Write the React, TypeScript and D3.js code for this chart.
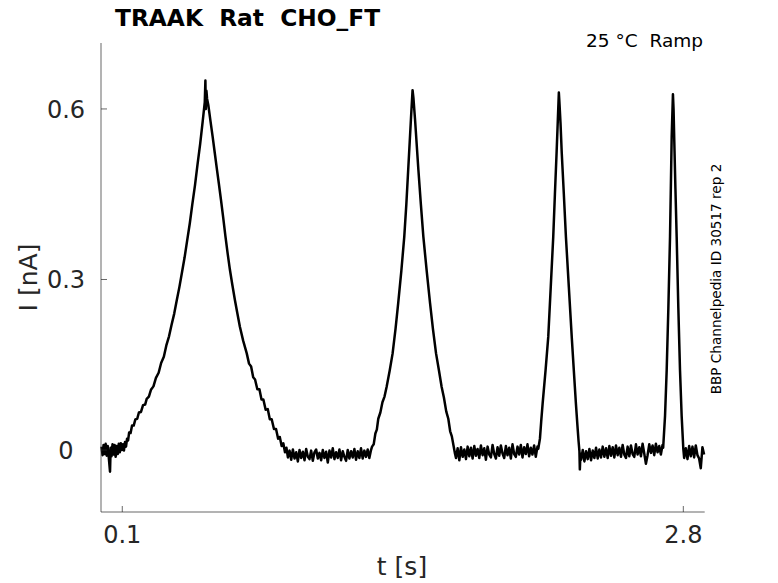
import React from "react";
import * as d3 from "d3";

// ---- chart text ----
const title = "TRAAK  Rat  CHO_FT";
const condition = "25 °C  Ramp";
const sideNote = "BBP Channelpedia ID 30517 rep 2";
const xLabel = "t [s]";
const yLabel = "I [nA]";

// ---- axes ----
const xDomain: [number, number] = [0, 2.9];
const yDomain: [number, number] = [-0.109, 0.716];
const xTicks = [0.1, 2.8];
const yTicks = [0, 0.3, 0.6];

// ---- trace: [time s, current nA] ----
const baseline0: [number, number][] = [
  [0.0, 0.006], [0.005, -0.009], [0.01, 0.009], [0.015, -0.007], [0.02, 0.011],
  [0.025, -0.01], [0.03, 0.007], [0.035, -0.013], [0.041, -0.038], [0.044, 0.004],
  [0.048, -0.011], [0.053, 0.01], [0.058, -0.008], [0.063, 0.009], [0.068, -0.012],
  [0.073, 0.007], [0.078, -0.007], [0.083, 0.011], [0.088, -0.004], [0.093, 0.012],
  [0.098, 0.0],
];

const peak1: [number, number][] = [
  [0.103, 0.01], [0.108, -0.001], [0.113, 0.014], [0.118, 0.006], [0.123, 0.02],
  [0.128, 0.017], [0.133, 0.031], [0.14, 0.03], [0.147, 0.043], [0.155, 0.043],
  [0.163, 0.054], [0.172, 0.055], [0.18, 0.066], [0.19, 0.067], [0.2, 0.079],
  [0.21, 0.08], [0.2175, 0.09], [0.228, 0.094], [0.238, 0.106], [0.25, 0.112],
  [0.262, 0.127], [0.275, 0.136], [0.287, 0.153], [0.3, 0.164], [0.312, 0.184],
  [0.325, 0.2], [0.337, 0.22], [0.35, 0.24], [0.362, 0.263], [0.375, 0.287],
  [0.387, 0.312], [0.4, 0.339], [0.412, 0.368], [0.425, 0.399], [0.437, 0.432],
  [0.45, 0.466], [0.462, 0.502], [0.475, 0.539], [0.487, 0.578], [0.497, 0.612],
  [0.5, 0.65], [0.502, 0.6], [0.505, 0.632], [0.508, 0.618], [0.514, 0.607],
  [0.524, 0.58], [0.535, 0.551], [0.545, 0.523], [0.555, 0.495], [0.565, 0.468],
  [0.575, 0.44], [0.586, 0.408], [0.596, 0.377], [0.607, 0.346], [0.618, 0.317],
  [0.63, 0.29], [0.642, 0.264], [0.654, 0.24], [0.666, 0.217], [0.682, 0.192],
  [0.699, 0.17], [0.71, 0.152], [0.72, 0.147], [0.73, 0.128], [0.739, 0.124],
  [0.75, 0.107], [0.76, 0.107], [0.77, 0.089], [0.779, 0.089], [0.79, 0.071],
  [0.8, 0.072], [0.81, 0.054], [0.819, 0.054], [0.83, 0.037], [0.84, 0.037],
  [0.85, 0.02], [0.858, 0.023], [0.867, 0.007], [0.875, 0.012], [0.883, -0.004],
  [0.89, 0.004], [0.897, -0.013],
];

type Stretch = { t0: number; dt: number; values: number[] };

const baseline1: Stretch = {
  t0: 0.905,
  dt: 0.008,
  values: [
    -0.001, -0.017, 0.001, -0.015, -0.004, -0.02, 0.0, -0.014, -0.003, -0.018,
    0.002, -0.012, -0.016, -0.001, -0.019, -0.004, 0.001, -0.015, -0.005, -0.018,
    0.0, -0.014, -0.003, -0.022, -0.001, -0.013, 0.003, -0.016, -0.004, -0.014,
    0.001, -0.018, -0.002, -0.012, -0.019, 0.0, -0.015, -0.002, -0.013, 0.002,
    -0.017, -0.002, -0.014, 0.003, -0.015, -0.001, -0.012, 0.001, -0.014, 0.0,
  ],
};

const peak2: [number, number][] = [
  [1.302, 0.006], [1.31, 0.01], [1.318, 0.029], [1.325, 0.036], [1.332, 0.055],
  [1.342, 0.066], [1.352, 0.084], [1.362, 0.094], [1.372, 0.111], [1.387, 0.14],
  [1.401, 0.17], [1.415, 0.213], [1.428, 0.259], [1.443, 0.315], [1.457, 0.375],
  [1.467, 0.432], [1.476, 0.493], [1.489, 0.581], [1.497, 0.633], [1.501, 0.62],
  [1.509, 0.581], [1.525, 0.493], [1.537, 0.432], [1.549, 0.375], [1.565, 0.315],
  [1.581, 0.259], [1.595, 0.213], [1.61, 0.17], [1.624, 0.14], [1.637, 0.111],
  [1.648, 0.092], [1.659, 0.068], [1.669, 0.055], [1.678, 0.033], [1.686, 0.024],
  [1.694, 0.008], [1.701, -0.006],
];

const baseline2: Stretch = {
  t0: 1.706,
  dt: 0.008,
  values: [
    -0.014, 0.003, -0.018, 0.005, -0.012, 0.001, -0.016, 0.006, -0.011, 0.004,
    -0.015, 0.007, -0.01, 0.002, -0.014, 0.008, -0.009, 0.003, -0.017, 0.006,
    -0.008, -0.013, 0.009, -0.007, -0.015, 0.005, -0.01, 0.008, -0.006, -0.014,
    0.007, -0.009, 0.004, -0.015, 0.01, -0.007, -0.012, 0.006, -0.008, 0.009,
    -0.013, 0.005, -0.007, 0.01, -0.011, 0.004, -0.008, 0.008, -0.012, 0.006,
  ],
};

const peak3: [number, number][] = [
  [2.102, 0.002], [2.11, 0.02], [2.116, 0.05], [2.123, 0.082], [2.137, 0.14],
  [2.15, 0.199], [2.162, 0.287], [2.174, 0.375], [2.182, 0.45], [2.19, 0.522],
  [2.196, 0.58], [2.201, 0.629], [2.204, 0.61], [2.209, 0.575], [2.215, 0.522],
  [2.225, 0.45], [2.235, 0.375], [2.249, 0.287], [2.263, 0.199], [2.273, 0.14],
  [2.283, 0.082], [2.29, 0.045], [2.296, 0.015], [2.3, -0.002], [2.302, -0.034],
  [2.305, -0.006],
];

const baseline3: Stretch = {
  t0: 2.308,
  dt: 0.008,
  values: [
    -0.017, 0.0, -0.02, -0.002, -0.016, 0.002, -0.018, -0.001, -0.014, 0.004,
    -0.015, 0.001, -0.013, 0.006, -0.012, 0.003, -0.014, 0.007, -0.01, 0.005,
    -0.013, 0.008, -0.009, 0.004, -0.012, 0.009, -0.008, -0.014, 0.006, -0.011,
    0.008, -0.007, -0.012, 0.01, -0.008, 0.005, -0.011, 0.011, -0.006, -0.024,
    -0.009, 0.01, -0.005, 0.008, -0.009, 0.011, -0.004, 0.007, -0.008, 0.009,
  ],
};

const peak4: [number, number][] = [
  [2.703, 0.004], [2.712, 0.06], [2.72, 0.141], [2.728, 0.25], [2.736, 0.375],
  [2.744, 0.551], [2.75, 0.626], [2.753, 0.6], [2.756, 0.551], [2.762, 0.46],
  [2.768, 0.375], [2.776, 0.25], [2.784, 0.141], [2.792, 0.06], [2.8, 0.002],
];

const baseline4: Stretch = {
  t0: 2.804,
  dt: 0.008,
  values: [
    -0.014, 0.003, -0.016, 0.007, -0.011, 0.006, -0.013, 0.008, -0.009, -0.015,
    -0.032, 0.005, -0.008,
  ],
};

const samples = (s: Stretch): [number, number][] =>
  s.values.map((v, i) => [s.t0 + i * s.dt, v]);

const trace: [number, number][] = [
  ...baseline0,
  ...peak1,
  ...samples(baseline1),
  ...peak2,
  ...samples(baseline2),
  ...peak3,
  ...samples(baseline3),
  ...peak4,
  ...samples(baseline4),
];

const W = 778;
const H = 583;
const FONT = "'DejaVu Sans', Verdana, sans-serif";
const AXIS = "#262626";

export default function App() {
  const x = d3.scaleLinear().domain(xDomain).range([101.5, 704.1]);
  const y = d3.scaleLinear().domain(yDomain).range([512, 43]);
  const line = d3
    .line<[number, number]>()
    .x((d) => x(d[0]))
    .y((d) => y(d[1]));

  const [x0, x1] = [101, 704.7];
  const [yb, yt] = y.range();

  return (
    <svg
      width={W}
      height={H}
      viewBox={`0 0 ${W} ${H}`}
      style={{ position: "absolute", left: 0, top: 0, background: "#fff" }}
      fontFamily={FONT}
    >
      <rect x={0} y={0} width={W} height={H} fill="#fff" />
      {/* trace */}
      <path
        d={line(trace) ?? ""}
        fill="none"
        stroke="#000"
        strokeWidth={2.5}
        strokeLinejoin="round"
      />
      {/* axes */}
      <line x1={x0} x2={x0} y1={yb} y2={yt} stroke={AXIS} strokeWidth={0.7} />
      <line x1={x0} x2={x1} y1={yb} y2={yb} stroke={AXIS} strokeWidth={0.7} />
      {yTicks.map((t) => (
        <g key={`y${t}`}>
          <line x1={x0} x2={x0 + 6} y1={y(t)} y2={y(t)} stroke={AXIS} strokeWidth={0.7} />
          <text
            x={66}
            y={y(t)}
            dy="0.36em"
            textAnchor="middle"
            fontSize={24}
            fill={AXIS}
          >
            {String(t)}
          </text>
        </g>
      ))}
      {xTicks.map((t) => (
        <g key={`x${t}`}>
          <line x1={x(t)} x2={x(t)} y1={yb} y2={yb - 6} stroke={AXIS} strokeWidth={0.7} />
          <text x={x(t)} y={542.5} textAnchor="middle" fontSize={24} fill={AXIS}>
            {String(t)}
          </text>
        </g>
      ))}
      {/* labels */}
      <text x={402} y={575} textAnchor="middle" fontSize={25} fill={AXIS}>
        {xLabel}
      </text>
      <text
        transform={`translate(37, ${(yb + yt) / 2}) rotate(-90)`}
        textAnchor="middle"
        fontSize={25}
        fill={AXIS}
      >
        {yLabel}
      </text>
      <text x={115} y={26} fontSize={23.3} fontWeight="bold" fill="#000" style={{ whiteSpace: "pre" }}>
        {title}
      </text>
      <text x={703} y={47} textAnchor="end" fontSize={18.5} fill="#000" style={{ whiteSpace: "pre" }}>
        {condition}
      </text>
      <text
        transform={`translate(721, 279) rotate(-90)`}
        textAnchor="middle"
        fontSize={13.6}
        fill="#000"
      >
        {sideNote}
      </text>
    </svg>
  );
}
